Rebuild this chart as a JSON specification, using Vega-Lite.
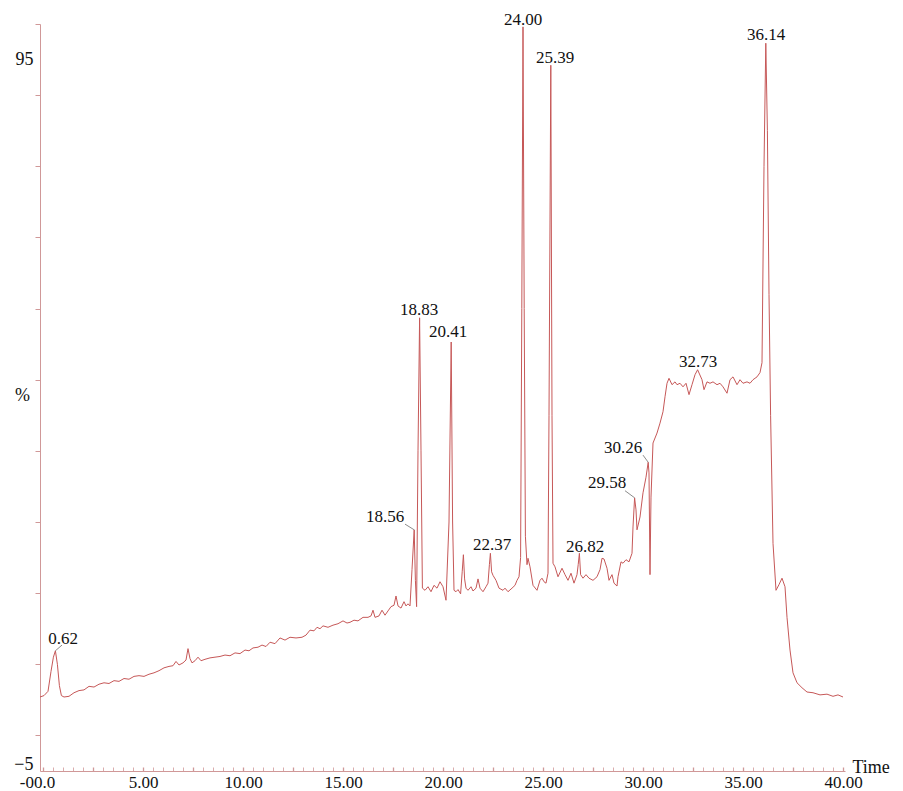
{
  "$schema": "https://vega.github.io/schema/vega-lite/v6.json",
  "width": 805,
  "height": 747,
  "autosize": {"type": "none"},
  "padding": {"left": 40, "top": 24, "right": 58, "bottom": 20},
  "background": "white",
  "config": {"view": {"stroke": null}, "font": "Liberation Serif"},
  "datasets": {
    "trace": [
      {"t":-0.15,"v":5.4},{"t":0.05,"v":5.6},{"t":0.25,"v":6.2},{"t":0.4,"v":9.0},{"t":0.52,"v":11.0},{"t":0.62,"v":11.9},{"t":0.72,"v":10.0},{"t":0.82,"v":7.0},{"t":0.92,"v":5.6},{"t":1.05,"v":5.4},
      {"t":1.3,"v":5.5},{"t":1.55,"v":6.0},{"t":1.8,"v":6.3},{"t":2.05,"v":6.4},{"t":2.3,"v":6.9},{"t":2.55,"v":6.8},{"t":2.8,"v":7.2},{"t":3.05,"v":7.4},{"t":3.3,"v":7.3},{"t":3.55,"v":7.7},
      {"t":3.8,"v":7.6},{"t":4.05,"v":8.0},{"t":4.3,"v":7.9},{"t":4.55,"v":8.3},{"t":4.8,"v":8.4},{"t":5.05,"v":8.3},{"t":5.3,"v":8.6},{"t":5.55,"v":8.8},{"t":5.8,"v":9.1},{"t":6.05,"v":9.5},
      {"t":6.3,"v":9.7},{"t":6.5,"v":9.8},{"t":6.65,"v":10.4},{"t":6.8,"v":9.9},{"t":7.0,"v":10.2},{"t":7.15,"v":10.6},{"t":7.25,"v":12.2},{"t":7.35,"v":10.8},{"t":7.45,"v":10.2},{"t":7.6,"v":10.5},
      {"t":7.75,"v":11.0},{"t":7.9,"v":10.5},{"t":8.1,"v":10.7},{"t":8.35,"v":10.9},{"t":8.6,"v":11.0},{"t":8.85,"v":11.1},{"t":9.1,"v":11.3},{"t":9.35,"v":11.2},{"t":9.6,"v":11.6},{"t":9.85,"v":11.5},
      {"t":10.1,"v":12.0},{"t":10.3,"v":11.9},{"t":10.5,"v":12.3},{"t":10.75,"v":12.4},{"t":10.95,"v":12.7},{"t":11.15,"v":12.5},{"t":11.35,"v":13.1},{"t":11.6,"v":12.9},{"t":11.85,"v":13.7},{"t":12.1,"v":13.4},
      {"t":12.35,"v":13.8},{"t":12.65,"v":13.7},{"t":12.95,"v":13.8},{"t":13.15,"v":14.1},{"t":13.35,"v":14.8},{"t":13.55,"v":14.7},{"t":13.7,"v":15.2},{"t":13.85,"v":15.0},{"t":14.0,"v":15.4},{"t":14.25,"v":15.2},
      {"t":14.5,"v":15.5},{"t":14.75,"v":15.7},{"t":15.0,"v":16.1},{"t":15.2,"v":15.8},{"t":15.35,"v":15.9},{"t":15.55,"v":16.2},{"t":15.75,"v":16.1},{"t":16.0,"v":16.6},{"t":16.25,"v":16.6},{"t":16.4,"v":16.8},
      {"t":16.5,"v":17.6},{"t":16.6,"v":16.6},{"t":16.8,"v":16.8},{"t":16.95,"v":17.6},{"t":17.1,"v":16.9},{"t":17.25,"v":17.5},{"t":17.4,"v":18.1},{"t":17.55,"v":18.3},{"t":17.65,"v":19.6},{"t":17.75,"v":18.2},
      {"t":17.9,"v":17.9},{"t":18.05,"v":18.8},{"t":18.15,"v":18.2},{"t":18.25,"v":18.5},{"t":18.35,"v":18.2},{"t":18.45,"v":23.3},{"t":18.56,"v":28.9},{"t":18.62,"v":21.8},{"t":18.68,"v":18.1},{"t":18.75,"v":40.0},
      {"t":18.83,"v":58.7},{"t":18.9,"v":40.0},{"t":18.97,"v":20.7},{"t":19.1,"v":20.4},{"t":19.25,"v":20.9},{"t":19.4,"v":20.2},{"t":19.55,"v":21.1},{"t":19.7,"v":20.7},{"t":19.85,"v":21.6},{"t":20.0,"v":20.9},
      {"t":20.15,"v":19.0},{"t":20.3,"v":30.0},{"t":20.41,"v":55.3},{"t":20.48,"v":30.0},{"t":20.55,"v":20.4},{"t":20.65,"v":20.2},{"t":20.75,"v":20.5},{"t":20.88,"v":19.9},{"t":20.96,"v":23.0},{"t":21.02,"v":25.4},
      {"t":21.08,"v":22.0},{"t":21.15,"v":20.7},{"t":21.25,"v":20.4},{"t":21.4,"v":20.9},{"t":21.5,"v":20.3},{"t":21.65,"v":20.7},{"t":21.75,"v":22.0},{"t":21.85,"v":20.7},{"t":22.0,"v":20.2},{"t":22.15,"v":20.9},
      {"t":22.25,"v":21.4},{"t":22.32,"v":24.0},{"t":22.37,"v":25.6},{"t":22.43,"v":23.0},{"t":22.5,"v":22.5},{"t":22.65,"v":21.8},{"t":22.8,"v":20.7},{"t":23.0,"v":20.4},{"t":23.1,"v":20.7},{"t":23.25,"v":20.2},
      {"t":23.45,"v":20.7},{"t":23.6,"v":21.1},{"t":23.7,"v":21.8},{"t":23.8,"v":22.3},{"t":23.88,"v":25.0},{"t":23.94,"v":60.0},{"t":24.0,"v":99.6},{"t":24.06,"v":60.0},{"t":24.12,"v":28.0},{"t":24.2,"v":24.0},
      {"t":24.25,"v":24.9},{"t":24.35,"v":23.7},{"t":24.5,"v":21.1},{"t":24.7,"v":20.4},{"t":24.85,"v":21.8},{"t":24.95,"v":22.1},{"t":25.05,"v":21.6},{"t":25.15,"v":21.4},{"t":25.25,"v":22.8},{"t":25.3,"v":45.0},
      {"t":25.39,"v":94.2},{"t":25.45,"v":45.0},{"t":25.5,"v":24.2},{"t":25.6,"v":23.7},{"t":25.75,"v":22.3},{"t":25.95,"v":23.5},{"t":26.1,"v":22.6},{"t":26.25,"v":21.8},{"t":26.4,"v":22.8},{"t":26.55,"v":21.4},
      {"t":26.7,"v":22.6},{"t":26.76,"v":24.0},{"t":26.82,"v":25.6},{"t":26.88,"v":22.6},{"t":27.0,"v":22.1},{"t":27.15,"v":22.6},{"t":27.3,"v":22.1},{"t":27.5,"v":21.8},{"t":27.7,"v":22.3},{"t":27.85,"v":23.3},
      {"t":27.95,"v":24.9},{"t":28.05,"v":24.8},{"t":28.2,"v":23.5},{"t":28.3,"v":21.8},{"t":28.45,"v":22.6},{"t":28.55,"v":21.4},{"t":28.7,"v":21.0},{"t":28.75,"v":22.3},{"t":28.9,"v":24.4},{"t":29.0,"v":24.2},
      {"t":29.15,"v":24.7},{"t":29.3,"v":24.4},{"t":29.45,"v":25.6},{"t":29.5,"v":29.3},{"t":29.58,"v":33.4},{"t":29.65,"v":31.7},{"t":29.7,"v":28.9},{"t":29.85,"v":30.7},{"t":30.0,"v":34.1},{"t":30.15,"v":36.3},
      {"t":30.26,"v":38.4},{"t":30.3,"v":36.9},{"t":30.35,"v":22.6},{"t":30.4,"v":33.5},{"t":30.5,"v":41.1},{"t":30.7,"v":42.5},{"t":30.85,"v":43.9},{"t":31.0,"v":45.5},{"t":31.1,"v":47.6},{"t":31.2,"v":49.5},
      {"t":31.3,"v":50.2},{"t":31.45,"v":49.3},{"t":31.6,"v":49.7},{"t":31.7,"v":49.3},{"t":31.85,"v":49.5},{"t":32.0,"v":49.0},{"t":32.15,"v":49.5},{"t":32.3,"v":47.9},{"t":32.45,"v":49.3},{"t":32.6,"v":50.7},
      {"t":32.73,"v":51.4},{"t":32.95,"v":50.0},{"t":33.05,"v":48.6},{"t":33.2,"v":49.7},{"t":33.35,"v":49.5},{"t":33.5,"v":49.7},{"t":33.7,"v":49.3},{"t":33.85,"v":49.5},{"t":34.0,"v":49.0},{"t":34.2,"v":48.1},
      {"t":34.35,"v":50.0},{"t":34.5,"v":50.4},{"t":34.7,"v":49.3},{"t":34.85,"v":50.0},{"t":35.0,"v":49.5},{"t":35.2,"v":49.7},{"t":35.35,"v":49.5},{"t":35.5,"v":50.0},{"t":35.7,"v":50.4},{"t":35.85,"v":51.0},
      {"t":35.95,"v":52.4},{"t":36.05,"v":80.0},{"t":36.14,"v":97.3},{"t":36.22,"v":85.0},{"t":36.3,"v":62.0},{"t":36.38,"v":45.0},{"t":36.5,"v":27.0},{"t":36.65,"v":20.4},{"t":36.8,"v":21.2},{"t":36.95,"v":22.1},
      {"t":37.1,"v":20.9},{"t":37.2,"v":16.6},{"t":37.35,"v":12.0},{"t":37.5,"v":8.8},{"t":37.7,"v":7.4},{"t":37.95,"v":6.7},{"t":38.2,"v":6.1},{"t":38.5,"v":6.0},{"t":38.85,"v":5.7},{"t":39.2,"v":5.8},
      {"t":39.5,"v":5.5},{"t":39.75,"v":5.7},{"t":40.0,"v":5.4}
    ],
    "peaks": [
      {"label":"0.62","rt":0.62,"pk":11.9,"lx":1.0,"ly":13.6,"ex":0.95,"ey":12.7},
      {"label":"18.56","rt":18.56,"pk":28.9,"lx":17.1,"ly":30.7,"ex":18.1,"ey":29.7},
      {"label":"18.83","rt":18.83,"pk":58.7,"lx":18.8,"ly":59.8},
      {"label":"20.41","rt":20.41,"pk":55.3,"lx":20.25,"ly":56.7},
      {"label":"22.37","rt":22.37,"pk":25.6,"lx":22.45,"ly":26.8},
      {"label":"24.00","rt":24.0,"pk":99.6,"lx":24.0,"ly":100.6},
      {"label":"25.39","rt":25.39,"pk":94.2,"lx":25.6,"ly":95.2},
      {"label":"26.82","rt":26.82,"pk":25.6,"lx":27.1,"ly":26.5},
      {"label":"29.58","rt":29.58,"pk":33.4,"lx":28.2,"ly":35.5,"ex":29.1,"ey":34.4},
      {"label":"30.26","rt":30.26,"pk":38.4,"lx":29.0,"ly":40.4,"ex":30.0,"ey":39.4},
      {"label":"32.73","rt":32.73,"pk":51.4,"lx":32.75,"ly":52.5},
      {"label":"36.14","rt":36.14,"pk":97.3,"lx":36.15,"ly":98.5}
    ]
  },
  "layer": [
    {
      "data": {"name": "trace"},
      "mark": {"type": "line", "color": "#c65858", "strokeWidth": 1, "interpolate": "linear"},
      "encoding": {
        "x": {
          "field": "t", "type": "quantitative",
          "scale": {"domain": [-0.15, 40.1], "nice": false, "zero": false},
          "axis": {
            "title": "Time",
            "titleFont": "Liberation Serif", "titleFontSize": 18, "titleFontWeight": "normal", "titleColor": "#111",
            "titleX": 812, "titleY": -4, "titleAlign": "left", "titleBaseline": "middle", "titleAnchor": "start",
            "tickCount": 200,
            "values": [0,0.5,1,1.5,2,2.5,3,3.5,4,4.5,5,5.5,6,6.5,7,7.5,8,8.5,9,9.5,10,10.5,11,11.5,12,12.5,13,13.5,14,14.5,15,15.5,16,16.5,17,17.5,18,18.5,19,19.5,20,20.5,21,21.5,22,22.5,23,23.5,24,24.5,25,25.5,26,26.5,27,27.5,28,28.5,29,29.5,30,30.5,31,31.5,32,32.5,33,33.5,34,34.5,35,35.5,36,36.5,37,37.5,38,38.5,39,39.5,40],
            "labelExpr": "datum.value % 5 === 0 ? (datum.value === 0 ? '-00.0' : format(datum.value, '.2f')) : ''",
            "labelFont": "Liberation Serif", "labelFontSize": 17, "labelColor": "#111",
            "labelOverlap": false, "labelBound": false, "labelFlush": false,
            "labelPadding": 7,
            "labelOffset": {"condition": {"test": "datum.value === 0", "value": -6}, "value": 0},
            "tickSize": -4,
            "tickWidth": {"condition": {"test": "datum.value % 2.5 === 0", "value": 1.3}, "value": 0.8},
            "tickColor": "#d09898", "domainColor": "#d09898", "grid": false
          }
        },
        "y": {
          "field": "v", "type": "quantitative",
          "scale": {"domain": [-5, 100], "nice": false, "zero": false},
          "axis": {
            "title": "%",
            "titleFont": "Liberation Serif", "titleFontSize": 18, "titleFontWeight": "normal", "titleColor": "#111",
            "titleAngle": 0, "titleX": -18, "titleY": 371, "titleAlign": "center", "titleBaseline": "middle",
            "tickCount": 50,
            "values": [-5,0,10,20,30,40,50,60,70,80,90,95,100],
            "labelExpr": "(datum.value === 95 || datum.value === -5) ? datum.label : ''",
            "labelFont": "Liberation Serif", "labelFontSize": 18, "labelColor": "#111",
            "labelOverlap": false, "labelBound": false, "labelFlush": false,
            "labelPadding": 2, "tickSize": 5,
            "labelOffset": {"condition": {"test": "datum.value === -5", "value": -7}, "value": 0},
            "tickOpacity": {"condition": {"test": "datum.value === 95 || datum.value === -5", "value": 0}, "value": 1},
            "tickColor": "#d09898", "domainColor": "#d09898", "grid": false
          }
        }
      }
    },
    {
      "data": {"name": "peaks"},
      "transform": [{"filter": "isValid(datum.ex)"}],
      "mark": {"type": "rule", "color": "#8c8c8c", "strokeWidth": 1},
      "encoding": {
        "x": {"field": "rt", "type": "quantitative"},
        "y": {"field": "pk", "type": "quantitative"},
        "x2": {"field": "ex"},
        "y2": {"field": "ey"}
      }
    },
    {
      "data": {"name": "peaks"},
      "mark": {"type": "text", "font": "Liberation Serif", "fontSize": 17, "color": "#111", "baseline": "middle", "align": "center"},
      "encoding": {
        "x": {"field": "lx", "type": "quantitative"},
        "y": {"field": "ly", "type": "quantitative"},
        "text": {"field": "label"}
      }
    }
  ]
}
